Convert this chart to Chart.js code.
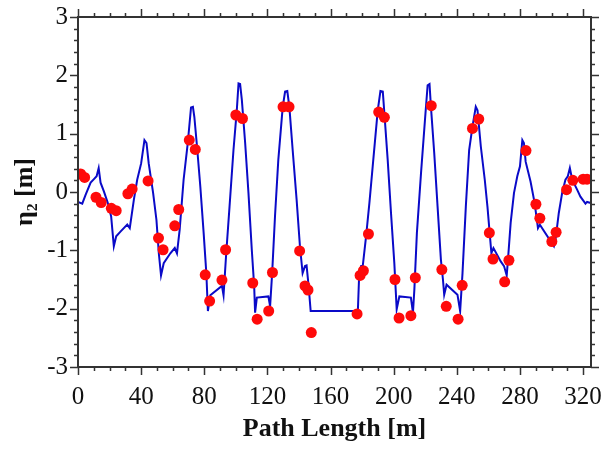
<!DOCTYPE html>
<html lang="en">
  <head>
    <meta charset="UTF-8" />
    <script src="https://cdn.jsdelivr.net/npm/chart.js@4.4.0/dist/chart.umd.min.js"></script>
    <title>eta2</title>
    <style>
      body {
        margin: 0;
        padding: 0;
        background: white;
      }
      .container {
        width: 605px;
        height: 452px;
      }
    </style>
  </head>
  <body>
    <div class="container">
      <canvas id="chart"></canvas>
    </div>
    <script>
      // blue curve: path length [m] and eta2 [m]
      const lineS = [0,2.7,4.8,8,10.1,11.8,13.1,14.3,16.4,18.9,21,22.7,24.2,26.9,31.2,32.8,35.4,37.5,40,42.1,43.4,44.8,47.6,49.7,51.2,52.6,54.3,58.5,61.3,62.7,64.4,66.9,69.5,71.6,72.8,73.7,75.4,77.5,79.6,81.3,82.3,83.8,91.2,92.2,93.9,96,98.5,100.6,101.7,102.7,103.8,105.9,108,110.1,111.6,112.2,113.3,120.6,121.7,123,124.8,126.9,129.7,131.2,132.6,133.9,136,138.5,140.6,142.3,143.8,144.8,146.1,147.4,177.3,178.1,179.4,180.4,182.5,184.6,186.7,189.9,191.6,193.1,194.1,196.2,198.3,200.4,201.9,203.6,210.9,212.2,213.1,214.7,217.3,219.8,221.5,222.7,223.6,225.7,227.8,229.9,231.2,232,233.5,240.4,242.1,243.6,245.7,247.8,249.9,252,253.1,255.2,257.7,259.4,260.8,261.9,263.2,267.8,269.9,271.6,272.4,274.1,276.2,278.3,280,281.5,282.5,283.6,286.7,289.3,291.4,292.6,301.5,302.5,304.6,306.7,308.8,310.3,311.6,313.1,316.2,318.3,321.5,322.5,325]
      const lineEta = [-0.17,-0.2,-0.05,0.16,0.22,0.27,0.41,0.16,0.01,-0.19,-0.42,-0.93,-0.76,-0.68,-0.56,-0.62,-0.13,0.21,0.49,0.89,0.84,0.49,-0.02,-0.48,-1.05,-1.43,-1.22,-1.05,-0.96,-1.05,-0.65,0.21,0.83,1.45,1.46,1.29,0.78,0.09,-0.7,-1.39,-2.04,-1.77,-1.61,-1.77,-1.05,-0.25,0.72,1.4,1.86,1.85,1.58,0.84,-0.02,-0.99,-1.61,-2.07,-1.81,-1.79,-1.96,-1.39,-0.42,0.55,1.46,1.72,1.73,1.46,0.72,-0.13,-0.93,-1.39,-1.27,-1.26,-1.61,-2.04,-2.04,-1.44,-1.27,-1.27,-0.76,-0.19,0.44,1.4,1.73,1.72,1.35,0.55,-0.36,-1.22,-2.01,-1.79,-1.81,-2.07,-1.67,-0.7,0.32,1.23,1.83,1.85,1.46,0.66,-0.25,-1.16,-1.5,-1.76,-1.59,-1.76,-2.04,-1.39,-0.25,0.72,1.12,1.46,1.4,0.78,0.21,-0.25,-0.7,-1.05,-0.96,-1.19,-1.27,-1.43,-1.16,-0.53,-0.02,0.27,0.44,0.89,0.84,0.52,0.18,-0.19,-0.62,-0.56,-0.93,-0.82,-0.36,-0.02,0.21,0.27,0.41,0.21,0.04,-0.08,-0.2,-0.17,-0.19]

      // red dots
      const dotS = [1.7,4.2,11.4,14.7,21.1,24.2,31.6,34.3,44.4,51,53.9,61.3,63.8,70.5,74.3,80.6,83.4,91.2,93.5,100,104.2,110.7,113.5,120.8,123.2,129.9,133.7,140.4,143.8,145.7,147.8,176.8,178.7,180.8,184,190.5,194.1,200.8,203.4,210.9,213.7,223.8,230.5,233.3,240.8,243.4,249.9,253.9,260.6,262.9,270.3,273,283.8,290.1,292.6,300.2,302.9,309.5,313.5,320,322.5]
      const dotEta = [0.31,0.25,-0.09,-0.18,-0.28,-0.32,-0.03,0.05,0.19,-0.79,-0.99,-0.58,-0.3,0.89,0.73,-1.42,-1.87,-1.51,-0.99,1.32,1.26,-1.56,-2.18,-2.04,-1.38,1.46,1.46,-1.01,-1.61,-1.68,-2.41,-2.09,-1.43,-1.35,-0.72,1.37,1.28,-1.5,-2.16,-2.12,-1.47,1.48,-1.33,-1.96,-2.18,-1.6,1.09,1.25,-0.7,-1.15,-1.54,-1.17,0.71,-0.21,-0.45,-0.85,-0.69,0.04,0.2,0.22,0.22]

      const xMajor = [0, 40, 80, 120, 160, 200, 240, 280, 320]
      const yMajor = [-3, -2, -1, 0, 1, 2, 3]

      const frameColor = '#333333'

      const frame = {
        id: 'frame',
        afterDraw(chart) {
          const { ctx, chartArea: a, scales } = chart
          const x = scales.x
          const y = scales.y
          ctx.save()
          ctx.strokeStyle = frameColor
          ctx.lineWidth = 2
          ctx.strokeRect(a.left, a.top, a.right - a.left, a.bottom - a.top)
          ctx.lineWidth = 1.5
          ctx.beginPath()
          for (let v = 0; v <= 320; v += 10) {
            const len = xMajor.includes(v) ? 8 : 4
            const px = Math.round(x.getPixelForValue(v)) + 0.5
            ctx.moveTo(px, a.bottom)
            ctx.lineTo(px, a.bottom + len)
            ctx.moveTo(px, a.top)
            ctx.lineTo(px, a.top - len)
          }
          for (let i = -15; i <= 15; i++) {
            const v = i / 5
            const len = i % 5 === 0 ? 8 : 4
            const py = Math.round(y.getPixelForValue(v)) + 0.5
            ctx.moveTo(a.left, py)
            ctx.lineTo(a.left - len, py)
            ctx.moveTo(a.right, py)
            ctx.lineTo(a.right + len, py)
          }
          ctx.stroke()
          ctx.restore()
        },
      }

      new Chart(document.getElementById('chart'), {
        type: 'scatter',
        data: {
          datasets: [
            {
              data: dotS.map((s, i) => ({ x: s, y: dotEta[i] })),
              backgroundColor: '#ff0a0a',
              borderWidth: 0,
              pointRadius: 5.5,
              showLine: false,
            },
            {
              data: lineS.map((s, i) => ({ x: s, y: lineEta[i] })),
              borderColor: '#0a0ac8',
              borderWidth: 2,
              pointRadius: 0,
              showLine: true,
              tension: 0,
            },
          ],
        },
        options: {
          responsive: true,
          maintainAspectRatio: false,
          animation: false,
          layout: {
            padding: { top: 17, right: 14, left: 0, bottom: 0 },
          },
          plugins: {
            legend: { display: false },
            tooltip: { enabled: false },
          },
          scales: {
            x: {
              type: 'linear',
              min: 0,
              max: 325,
              afterFit: (s) => {
                s.height = 85
                s.paddingLeft = 0
                s.paddingRight = 0
              },
              afterBuildTicks: (s) => {
                s.ticks = xMajor.map((v) => ({ value: v }))
              },
              grid: { display: false, drawTicks: false },
              border: { display: false },
              ticks: {
                color: '#111111',
                padding: 15,
                maxRotation: 0,
                autoSkip: false,
                font: { family: 'Liberation Serif', size: 25 },
              },
              title: {
                display: true,
                text: 'Path Length [m]',
                color: '#111111',
                font: { family: 'Liberation Serif', size: 26, weight: 'bold' },
                padding: { top: 0, bottom: 7 },
              },
            },
            y: {
              min: -3,
              max: 3,
              afterFit: (s) => {
                s.width = 78
                s.paddingTop = 0
                s.paddingBottom = 0
              },
              afterBuildTicks: (s) => {
                s.ticks = yMajor.map((v) => ({ value: v }))
              },
              grid: { display: false, drawTicks: false },
              border: { display: false },
              ticks: {
                color: '#111111',
                padding: 10,
                autoSkip: false,
                font: { family: 'Liberation Serif', size: 25 },
              },
              title: {
                display: true,
                text: 'η₂ [m]',
                color: '#111111',
                font: { family: 'Liberation Serif', size: 26, weight: 'bold' },
                padding: { top: 10, bottom: 0 },
              },
            },
          },
        },
        plugins: [frame],
      })
    </script>
  </body>
</html>
